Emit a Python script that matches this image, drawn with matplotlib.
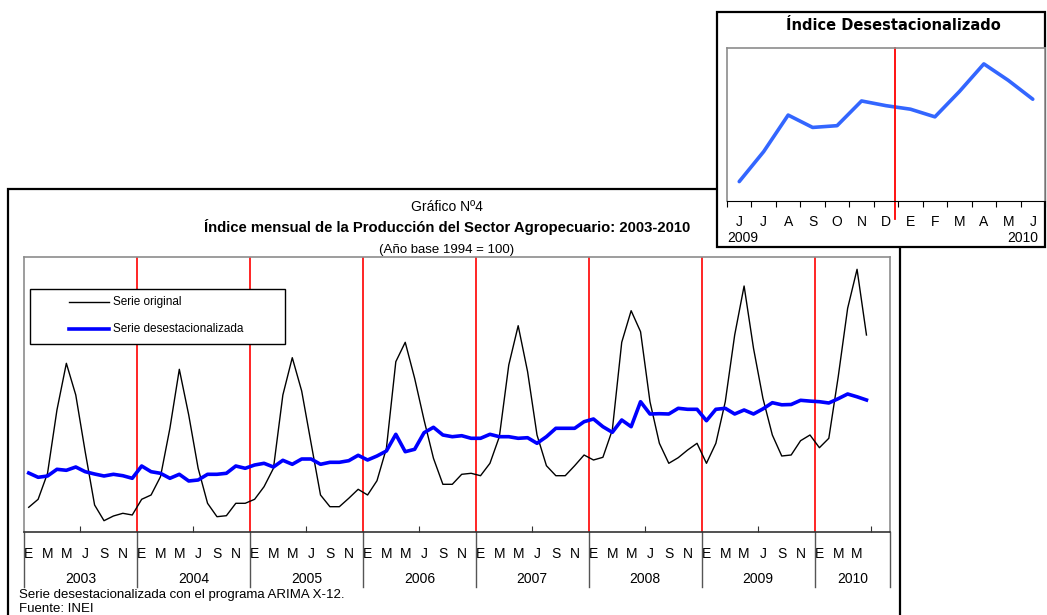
import numpy as np
import matplotlib.pyplot as plt
from matplotlib.patches import Rectangle
from matplotlib.lines import Line2D

plt.rcParams['font.family'] = ['Liberation Sans', 'DejaVu Sans']

# índice mensual, ene-2003 .. jun-2010
years = [2003, 2004, 2005, 2006, 2007, 2008, 2009, 2010]
month_labels = ['E', 'M', 'M', 'J', 'S', 'N']

serie_original = [
    64.7, 72.7, 98.7, 162.0, 208.7, 177.0, 120.3, 67.0, 51.3, 56.0, 58.7, 57.0,
    72.7, 77.0, 95.3, 143.7, 202.7, 157.0, 103.7, 68.7, 55.3, 56.3, 68.7, 68.7,
    72.7, 85.3, 103.7, 177.0, 214.3, 181.0, 128.7, 77.0, 65.3, 65.3, 73.7, 82.7,
    77.0, 91.3, 123.7, 210.3, 229.7, 193.7, 152.0, 113.7, 87.7, 87.7, 97.7, 98.7,
    96.3, 108.7, 135.3, 207.0, 246.3, 200.3, 137.0, 106.3, 96.3, 96.3, 106.3, 117.0,
    112.0, 114.7, 142.0, 229.7, 261.3, 240.3, 170.3, 128.7, 108.7, 114.3, 122.0, 128.7,
    108.7, 128.7, 170.3, 237.0, 286.0, 223.7, 173.7, 137.0, 116.0, 117.0, 131.3, 137.0,
    124.3, 133.7, 195.3, 263.7, 302.7, 237.0,
]

serie_desest = [
    99.0, 94.7, 96.0, 102.7, 101.7, 105.0, 100.3, 98.0, 96.0, 97.7, 96.3, 93.7,
    106.0, 100.3, 98.7, 93.7, 97.7, 91.0, 92.0, 97.7, 97.7, 98.7, 106.0, 103.7,
    107.0, 108.7, 105.0, 111.7, 107.7, 113.0, 113.0, 107.7, 109.7, 109.7, 111.3, 116.7,
    112.0, 116.0, 121.0, 137.7, 120.3, 122.7, 139.3, 144.7, 137.0, 135.3, 136.3, 133.7,
    133.7, 137.7, 135.3, 135.3, 133.7, 134.3, 128.7, 135.3, 143.7, 143.7, 143.7, 150.3,
    153.0, 145.3, 139.7, 152.0, 145.3, 170.3, 158.0, 158.3, 158.0, 163.7, 162.7, 162.7,
    151.3, 162.7, 163.7, 158.0, 162.0, 158.0, 163.1, 169.3, 167.2, 167.5, 171.7, 170.9,
    170.3, 169.0, 173.3, 178.0, 175.2, 172.0,
]

inset_months = ['J', 'J', 'A', 'S', 'O', 'N', 'D', 'E', 'F', 'M', 'A', 'M', 'J']

W, H = 1047, 615
fig = plt.figure(figsize=(W / 100, H / 100), dpi=100)


def fx(px):
    return px / W


def fy(py):
    return 1 - py / H


# marco del gráfico principal
fig.patches.append(Rectangle((fx(8), fy(640)), fx(900) - fx(8), fy(189) - fy(640),
                             transform=fig.transFigure, fill=False,
                             edgecolor='black', linewidth=1.6, zorder=1))

fig.text(fx(447), fy(207), 'Gráfico Nº4', ha='center', va='center', fontsize=10)
fig.text(fx(447), fy(227), 'Índice mensual de la Producción del Sector Agropecuario: 2003-2010',
         ha='center', va='center', fontsize=10.7, fontweight='bold')
fig.text(fx(447), fy(250), '(Año base 1994 = 100)', ha='center', va='center', fontsize=9.5)

ax = fig.add_axes([fx(24), fy(532), fx(890) - fx(24), fy(257) - fy(532)])
n_cat = 92
x = np.arange(len(serie_original)) + 0.5
ax.plot(x, serie_original, color='black', lw=1.0, zorder=3)
ax.plot(x, serie_desest, color='#0000FF', lw=2.6, zorder=4)
for k in range(1, len(years)):
    ax.axvline(12 * k, color='#FF0000', lw=1.2, zorder=2)
ax.set_xlim(0, n_cat)
ax.set_ylim(40, 315)
ax.set_yticks([])
for s in ['left', 'top', 'right']:
    ax.spines[s].set_color('#8c8c8c')
    ax.spines[s].set_linewidth(1.2)
ax.spines['bottom'].set_color('#333333')
ax.spines['bottom'].set_linewidth(1.2)

ax.set_xticks(np.arange(6, n_cat, 12))
ax.tick_params(axis='x', which='major', direction='in', length=4, color='#333333',
               labelbottom=False)
pos, labs = [], []
for i in range(len(years)):
    for j, m in enumerate(month_labels):
        c = 12 * i + 2 * j
        if c < len(serie_original):
            pos.append(c + 0.5)
            labs.append(m)
ax.set_xticks(pos, minor=True)
ax.set_xticklabels(labs, minor=True, fontsize=10)
ax.tick_params(axis='x', which='minor', length=0, pad=11)

tr = ax.get_xaxis_transform()
for k in list(range(0, n_cat, 12)) + [n_cat]:
    ax.plot([k, k], [0, -0.2], transform=tr, color='#555555', lw=1.0, clip_on=False)
for i, yr in enumerate(years):
    ax.text((12 * i + min(12 * i + 12, n_cat)) / 2, -0.171, str(yr), transform=tr,
            ha='center', va='center', fontsize=10)

# leyenda
ax.add_patch(Rectangle((0.0069, 0.6836), 0.2945, 0.2, transform=ax.transAxes,
                       fill=True, facecolor='white', edgecolor='black', lw=1.0, zorder=6))
ax.add_line(Line2D([0.052, 0.098], [0.8364, 0.8364], transform=ax.transAxes,
                   color='black', lw=1.0, zorder=7))
ax.add_line(Line2D([0.052, 0.098], [0.738, 0.738], transform=ax.transAxes,
                   color='#0000FF', lw=2.6, zorder=7))
ax.text(0.1028, 0.8364, 'Serie original', transform=ax.transAxes, va='center',
        fontsize=8.5, zorder=7)
ax.text(0.1028, 0.738, 'Serie desestacionalizada', transform=ax.transAxes, va='center',
        fontsize=8.5, zorder=7)

fig.text(fx(19), fy(595), 'Serie desestacionalizada con el programa ARIMA X-12.',
         ha='left', va='center', fontsize=9.5)
fig.text(fx(19), fy(609), 'Fuente: INEI', ha='left', va='center', fontsize=9.5)

# recuadro: últimos 13 meses
fig.patches.append(Rectangle((fx(717), fy(247)), fx(1045) - fx(717), fy(12) - fy(247),
                             transform=fig.transFigure, facecolor='white',
                             edgecolor='black', linewidth=1.6, zorder=5))
fig.text(fx(893), fy(25), 'Índice Desestacionalizado', ha='center', va='center',
         fontsize=10.5, fontweight='bold', family='DejaVu Sans', zorder=7)

ins = fig.add_axes([fx(727), fy(201), fx(1045) - fx(727), fy(48) - fy(201)], zorder=6)
ins_vals = serie_desest[-13:]
xi = np.arange(len(ins_vals)) + 0.5
ins.plot(xi, ins_vals, color='#3366FF', lw=2.6, solid_capstyle='round')
ins.plot([6.85, 6.85], [-0.12, 1], transform=ins.get_xaxis_transform(),
         color='#FF0000', lw=1.3, clip_on=False)
ins.set_xlim(0, len(ins_vals))
ins.set_ylim(154.7, 180.7)
ins.set_yticks([])
ins.set_xticks(np.arange(0, len(ins_vals) + 1))
ins.tick_params(axis='x', which='major', direction='out', length=4, labelbottom=False)
ins.set_xticks(xi, minor=True)
ins.set_xticklabels(inset_months, minor=True, fontsize=10)
ins.tick_params(axis='x', which='minor', length=0, pad=10)
for s in ['left', 'top', 'right']:
    ins.spines[s].set_color('#8c8c8c')
    ins.spines[s].set_linewidth(1.2)
ins.spines['bottom'].set_color('black')
ins.text(0, -0.245, '2009', transform=ins.transAxes, ha='left', va='center', fontsize=10)
ins.text(0.98, -0.245, '2010', transform=ins.transAxes, ha='right', va='center', fontsize=10)

fig.savefig('out.png', dpi=100)
